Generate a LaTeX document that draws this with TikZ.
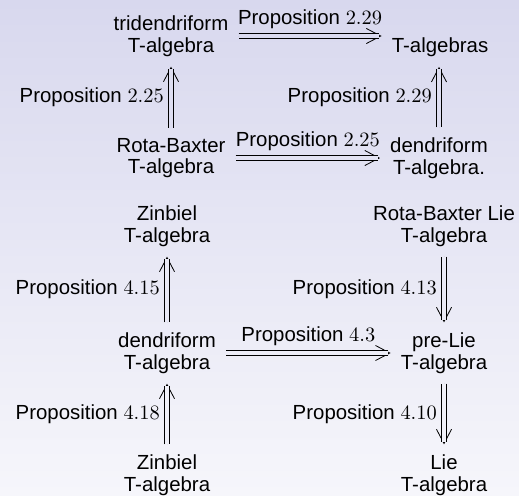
\documentclass[tikz,border=0pt]{standalone}
\usepackage[no-math]{fontspec}
\setmainfont{Liberation Sans}
\usetikzlibrary{arrows.meta}
\definecolor{bgtop}{RGB}{216,216,238}
\definecolor{bgbot}{RGB}{246,246,251}
\tikzset{
    alg/.style={align=center, font=\fontsize{10}{10.6}\selectfont},
    imp/.style={line width=0.4pt, -{Straight Barb[length=7pt, width=7.4pt]},
        shorten >=1.5pt, shorten <=1.5pt,
        postaction={draw, -, double=bgtop!#1!bgbot, double distance=1.7pt, shorten >=2.7pt}}
}
\begin{document}
\begin{tikzpicture}[x=0.49pt,y=-0.49pt]
    \fill[top color=bgtop, bottom color=bgbot] (0,0) rectangle (519,495);
    \useasboundingbox (0,0) rectangle (519,495);

    % first square
    \node[alg] (tri) at (171,36) {tridendriform\\T-algebra};
    \node[alg, anchor=base] (talg) at (440,52.3) {T-algebras};
    \node[alg] (rb) at (171,158) {Rota-Baxter\\T-algebra};
    \node[alg] (dend) at (439,158) {dendriform\\T-algebra.};
    \draw[imp=93] (tri.east) -- (tri.east -| talg.west) node[midway, above, alg] {Proposition $2.29$};
    \draw[imp=80] (rb) -- (tri) node[midway, left, alg] {Proposition $2.25$};
    \draw[imp=68] (rb) -- (dend) node[midway, above, alg] {Proposition $2.25$};
    \draw[imp=80] (dend) -- (dend |- talg.south) node[midway, left, alg] {Proposition $2.29$};

    % second diagram
    \node[alg] (zinT) at (167,226) {Zinbiel\\T-algebra};
    \node[alg] (rbl) at (444,226) {Rota-Baxter Lie\\T-algebra};
    \node[alg] (dendB) at (167,353) {dendriform\\T-algebra};
    \node[alg] (pre) at (444,353) {pre-Lie\\T-algebra};
    \node[alg] (zinB) at (167,475) {Zinbiel\\T-algebra};
    \node[alg] (lie) at (444,475) {Lie\\T-algebra};
    \draw[imp=41] (dendB) -- (zinT) node[midway, left, alg] {Proposition $4.15$};
    \draw[imp=41] (rbl) -- (pre) node[midway, left, alg] {Proposition $4.13$};
    \draw[imp=29] (dendB) -- (pre) node[midway, above, alg] {Proposition $4.3$};
    \draw[imp=16] (zinB) -- (dendB) node[midway, left, alg] {Proposition $4.18$};
    \draw[imp=16] (pre) -- (lie) node[midway, left, alg] {Proposition $4.10$};
\end{tikzpicture}
\end{document}
